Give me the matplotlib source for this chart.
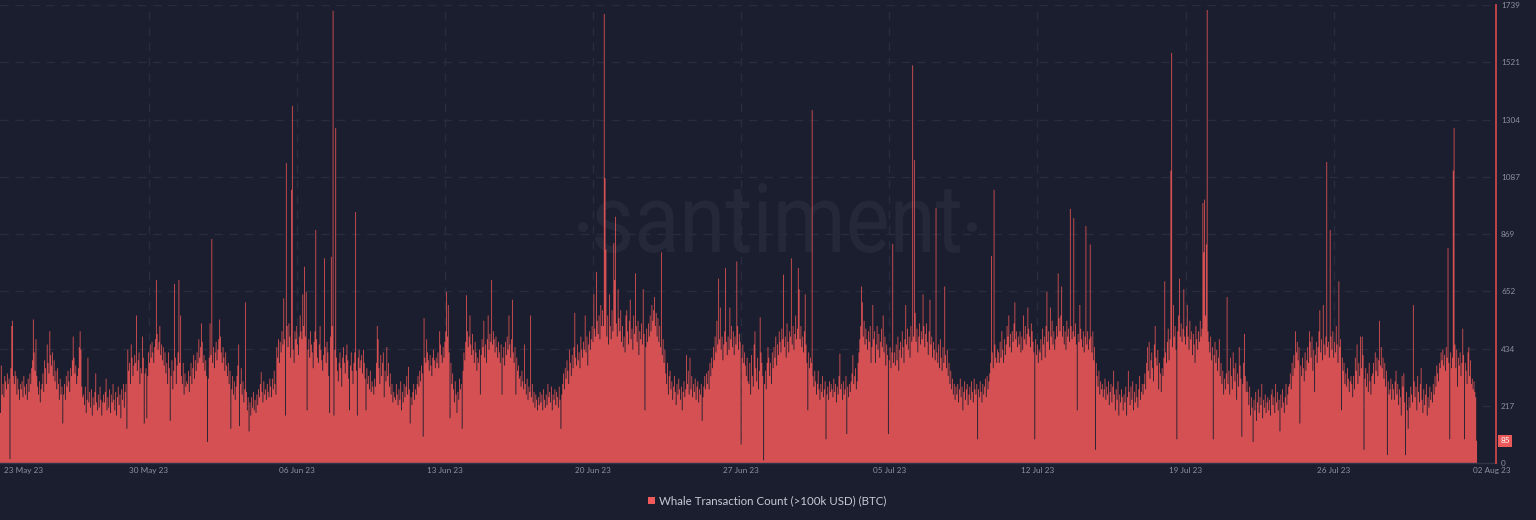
import numpy as np
import matplotlib
matplotlib.use("Agg")
import matplotlib.pyplot as plt
import matplotlib.transforms as mtransforms
from matplotlib.textpath import TextPath
from matplotlib.patches import PathPatch, Circle, Rectangle
from matplotlib.font_manager import FontProperties

# ---------------- data: hourly whale transaction counts, 23 May 2023 00:00 -> 02 Aug 2023 00:00
wk01 = [
    190, 370, 260, 300, 250, 330, 310, 280, 340, 300, 320, 15, 360, 520, 540, 330, 300, 350, 330, 260, 320, 280, 240, 300,
    280, 310, 250, 330, 290, 260, 300, 240, 320, 270, 340, 300, 360, 390, 545, 420, 350, 470, 330, 290, 260, 310, 230, 280,
    300, 340, 270, 390, 360, 300, 450, 380, 340, 500, 410, 370, 420, 330, 390, 310, 350, 280, 360, 300, 240, 320, 260, 290,
    150, 260, 300, 240, 330, 290, 350, 310, 270, 360, 330, 390, 480, 400, 340, 370, 300, 330, 360, 440, 500, 430, 290, 250,
    260, 220, 290, 190, 240, 400, 230, 270, 210, 280, 180, 250, 220, 270, 340, 230, 200, 260, 210, 290, 240, 180, 230, 260,
    230, 270, 320, 200, 250, 210, 280, 190, 260, 230, 300, 240, 200, 270, 180, 250, 290, 220, 260, 170, 280, 240, 300, 210,
    270, 300, 130, 430, 350, 380, 300, 450, 400, 330, 370, 410, 380, 560, 350, 390, 420, 300, 360, 340, 480, 400, 150, 340,
]
wk02 = [
    360, 170, 330, 420, 380, 450, 400, 460, 420, 380, 440, 470, 695, 490, 430, 460, 520, 410, 450, 390, 440, 370, 420, 340,
    380, 300, 420, 360, 160, 330, 390, 280, 350, 680, 400, 300, 370, 420, 695, 380, 560, 330, 300, 380, 260, 340, 290, 310,
    300, 350, 270, 330, 380, 300, 360, 410, 320, 390, 350, 420, 380, 470, 400, 440, 530, 460, 380, 410, 350, 390, 330, 80,
    320, 400, 530, 410, 850, 380, 440, 360, 420, 460, 390, 430, 470, 545, 480, 420, 380, 440, 400, 350, 420, 370, 330, 380,
    300, 350, 130, 280, 330, 260, 310, 240, 290, 330, 370, 450, 140, 300, 360, 260, 310, 230, 280, 610, 270, 200, 250, 120,
    230, 180, 250, 210, 270, 200, 240, 190, 260, 220, 280, 250, 300, 345, 270, 230, 310, 260, 280, 240, 300, 270, 250, 320,
    290, 250, 320, 280, 350, 300, 260, 440, 400, 470, 380, 460, 420, 500, 450, 625, 470, 180, 1139, 520, 440, 530, 480, 400,
]
wk03 = [
    1037, 1356, 430, 380, 500, 470, 520, 450, 410, 480, 560, 500, 470, 640, 520, 745, 480, 650, 200, 430, 470, 400, 500, 450,
    420, 360, 460, 500, 885, 470, 400, 380, 450, 520, 430, 390, 350, 410, 777, 440, 380, 460, 420, 330, 190, 480, 783, 520,
    1717, 180, 430, 1272, 400, 350, 310, 380, 420, 360, 290, 400, 440, 380, 340, 410, 450, 390, 320, 200, 370, 420, 350, 300,
    380, 420, 953, 350, 180, 400, 430, 360, 390, 410, 340, 430, 380, 320, 200, 360, 300, 330, 280, 350, 270, 310, 290, 260,
    320, 290, 380, 520, 470, 360, 300, 410, 330, 380, 420, 250, 350, 310, 440, 330, 380, 290, 340, 260, 300, 230, 270, 250,
    240, 300, 260, 220, 280, 240, 310, 200, 270, 230, 300, 250, 290, 330, 260, 365, 280, 150, 250, 220, 270, 300, 240, 280,
    260, 300, 330, 290, 350, 310, 370, 340, 100, 550, 400, 380, 470, 420, 390, 350, 410, 370, 330, 400, 430, 390, 360, 400,
]
wk04 = [
    380, 420, 360, 500, 450, 410, 380, 440, 400, 460, 500, 650, 480, 600, 420, 170, 380, 300, 340, 280, 230, 310, 260, 190,
    270, 240, 320, 280, 300, 130, 350, 420, 390, 460, 637, 500, 440, 480, 560, 450, 410, 490, 430, 380, 460, 420, 350, 400,
    380, 430, 260, 410, 470, 440, 540, 400, 450, 380, 470, 560, 430, 490, 460, 695, 450, 500, 470, 420, 480, 440, 400, 460,
    420, 380, 450, 260, 400, 440, 370, 460, 410, 480, 430, 560, 450, 400, 470, 620, 420, 380, 440, 260, 400, 350, 370, 320,
    330, 290, 350, 310, 280, 450, 300, 260, 320, 240, 290, 270, 560, 250, 300, 230, 270, 210, 260, 240, 200, 250, 220, 270,
    230, 260, 200, 280, 240, 210, 260, 220, 300, 250, 270, 230, 290, 200, 260, 240, 280, 220, 270, 250, 210, 290, 240, 130,
    260, 300, 340, 280, 360, 320, 390, 350, 300, 430, 380, 330, 410, 360, 440, 570, 400, 370, 450, 390, 420, 360, 480, 430,
]
wk05 = [
    400, 460, 430, 560, 420, 480, 370, 450, 500, 430, 470, 520, 460, 640, 510, 480, 725, 540, 490, 560, 470, 600, 520, 580,
    520, 1705, 1082, 810, 480, 560, 450, 640, 520, 470, 580, 500, 835, 695, 935, 530, 480, 660, 550, 500, 580, 460, 520, 440,
    480, 420, 560, 580, 500, 450, 540, 620, 470, 510, 430, 560, 490, 720, 520, 460, 540, 410, 500, 470, 530, 450, 660, 490,
    200, 440, 510, 460, 530, 480, 560, 500, 600, 540, 580, 630, 520, 570, 480, 550, 460, 520, 440, 800, 410, 470, 380, 430,
    340, 300, 380, 260, 330, 350, 280, 310, 240, 290, 330, 270, 220, 300, 260, 320, 280, 240, 290, 200, 270, 310, 250, 280,
    410, 300, 350, 260, 400, 280, 330, 250, 300, 270, 320, 240, 290, 310, 230, 280, 260, 300, 160, 250, 290, 330, 280, 340,
    300, 350, 280, 380, 330, 400, 360, 440, 390, 480, 420, 540, 450, 700, 470, 590, 430, 480, 390, 450, 500, 740, 460, 410,
]
wk06 = [
    480, 430, 590, 470, 520, 440, 500, 410, 480, 450, 765, 520, 430, 490, 460, 70, 400, 450, 380, 420, 370, 330, 400, 310,
    300, 380, 260, 410, 330, 290, 450, 500, 360, 310, 400, 280, 350, 553, 420, 380, 330, 10, 300, 350, 280, 380, 440, 400,
    330, 380, 300, 420, 360, 440, 400, 480, 370, 450, 410, 500, 460, 420, 510, 470, 715, 440, 480, 400, 530, 460, 420, 500,
    480, 777, 450, 520, 430, 490, 560, 470, 510, 740, 660, 470, 520, 440, 480, 420, 500, 640, 450, 380, 200, 420, 360, 400,
    380, 1340, 330, 290, 350, 310, 260, 300, 350, 280, 240, 300, 270, 330, 250, 280, 310, 90, 260, 290, 240, 310, 270, 300,
    280, 250, 320, 270, 300, 230, 290, 260, 330, 415, 280, 300, 240, 310, 260, 280, 330, 110, 290, 250, 300, 270, 310, 340,
    410, 300, 330, 360, 280, 310, 380, 420, 470, 520, 670, 610, 480, 540, 450, 510, 470, 430, 500, 460, 520, 380, 440, 600,
]
wk07 = [
    470, 500, 380, 450, 520, 430, 490, 400, 460, 510, 440, 560, 420, 480, 370, 450, 410, 110, 390, 440, 360, 420, 832, 380,
    420, 370, 450, 390, 480, 350, 430, 460, 400, 500, 440, 380, 470, 600, 450, 510, 430, 480, 400, 520, 460, 1510, 480, 1150,
    570, 460, 510, 420, 480, 530, 450, 500, 470, 640, 520, 440, 490, 530, 460, 410, 500, 620, 450, 480, 400, 460, 430, 390,
    968, 420, 380, 450, 360, 470, 400, 350, 440, 380, 670, 410, 360, 430, 330, 380, 300, 350, 280, 320, 260, 300, 240, 290,
    260, 300, 230, 280, 320, 250, 290, 200, 270, 310, 240, 280, 300, 220, 260, 290, 240, 310, 270, 230, 320, 280, 260, 300,
    90, 280, 250, 310, 270, 230, 300, 260, 290, 320, 250, 330, 280, 310, 340, 380, 786, 420, 360, 1037, 450, 400, 380, 430,
    420, 380, 460, 400, 500, 430, 380, 470, 410, 450, 520, 480, 560, 440, 490, 420, 500, 460, 530, 610, 470, 500, 440, 480,
]
wk08 = [
    450, 500, 420, 480, 430, 560, 470, 520, 450, 490, 590, 510, 480, 440, 530, 500, 460, 420, 90, 470, 410, 450, 380, 430,
    420, 470, 390, 510, 450, 480, 400, 520, 650, 460, 500, 430, 590, 480, 540, 450, 500, 430, 470, 520, 480, 720, 550, 500,
    560, 670, 480, 520, 450, 500, 430, 540, 480, 510, 460, 965, 520, 470, 500, 930, 480, 530, 450, 200, 490, 460, 600, 510,
    470, 440, 500, 420, 480, 900, 450, 500, 430, 470, 830, 480, 420, 500, 390, 440, 50, 380, 330, 290, 350, 260, 310, 280,
    300, 250, 280, 320, 240, 290, 260, 310, 220, 270, 300, 230, 290, 350, 260, 200, 280, 240, 310, 180, 260, 230, 280, 250,
    200, 260, 230, 290, 180, 250, 350, 270, 220, 290, 240, 310, 200, 270, 230, 300, 250, 210, 280, 330, 240, 270, 300, 260,
    300, 340, 280, 380, 440, 350, 460, 320, 390, 420, 360, 310, 450, 520, 400, 370, 430, 280, 380, 340, 270, 360, 330, 400,
]
wk09 = [
    690, 420, 380, 460, 510, 390, 470, 1110, 1557, 440, 600, 480, 520, 430, 90, 500, 560, 700, 480, 530, 460, 510, 660, 480,
    450, 520, 600, 480, 430, 540, 470, 500, 410, 490, 450, 380, 520, 470, 430, 500, 460, 540, 480, 510, 987, 800, 1000, 560,
    830, 1720, 500, 460, 420, 480, 390, 440, 90, 410, 460, 380, 430, 350, 400, 470, 330, 380, 300, 350, 260, 320, 280, 340,
    630, 300, 350, 260, 400, 330, 280, 420, 360, 310, 380, 240, 340, 290, 440, 370, 320, 100, 300, 380, 490, 330, 270, 310,
    270, 220, 290, 180, 250, 210, 80, 240, 200, 270, 160, 230, 280, 190, 250, 220, 300, 170, 240, 210, 260, 190, 230, 250,
    200, 240, 180, 260, 280, 220, 250, 190, 300, 230, 270, 200, 240, 120, 260, 210, 280, 230, 190, 250, 300, 220, 260, 290,
    300, 340, 280, 380, 330, 410, 360, 500, 420, 460, 390, 440, 150, 370, 330, 400, 360, 310, 420, 350, 390, 440, 380, 500,
]
wk10 = [
    460, 400, 480, 350, 430, 270, 410, 460, 380, 440, 500, 580, 420, 470, 390, 600, 450, 410, 480, 1143, 440, 460, 400, 885,
    480, 430, 500, 400, 460, 420, 520, 450, 380, 690, 440, 470, 200, 400, 350, 380, 300, 340, 290, 360, 320, 270, 310, 330,
    300, 250, 330, 280, 400, 350, 450, 300, 380, 330, 480, 360, 480, 410, 50, 320, 360, 290, 340, 270, 380, 310, 260, 330,
    340, 380, 300, 420, 350, 400, 330, 390, 540, 370, 440, 360, 400, 320, 380, 290, 350, 30, 310, 260, 280, 320, 240, 300,
    280, 240, 310, 350, 260, 300, 220, 280, 250, 180, 330, 290, 340, 230, 30, 270, 200, 130, 250, 210, 290, 260, 230, 600,
    310, 250, 290, 200, 330, 270, 230, 300, 360, 240, 190, 280, 220, 260, 300, 180, 250, 210, 290, 240, 270, 230, 300, 260,
    330, 290, 370, 340, 310, 380, 360, 420, 390, 430, 370, 410, 350, 440, 400, 816, 380, 90, 420, 360, 400, 1110, 1272, 450,
]
wk11 = [
    360, 430, 290, 400, 370, 420, 330, 380, 510, 410, 90, 380, 350, 300, 420, 440, 330, 390, 300, 320, 280, 310, 270, 250,
    85,
]

counts = wk01 + wk02 + wk03 + wk04 + wk05 + wk06 + wk07 + wk08 + wk09 + wk10 + wk11

y_ticks = [0, 217, 434, 652, 869, 1087, 1304, 1521, 1739]
x_tick_labels = ["30 May 23", "06 Jun 23", "13 Jun 23", "20 Jun 23", "27 Jun 23",
                 "05 Jul 23", "12 Jul 23", "19 Jul 23", "26 Jul 23"]
first_label = "23 May 23"
last_label = "02 Aug 23"
legend_label = "Whale Transaction Count (>100k USD) (BTC)"
watermark = "santiment"

# ---------------- style
BG = "#1b1e2e"
BAR = "#d45053"
GRID = "#282c3e"
TICK = "#8b90a4"
FONT = "Lato"
W, H = 1536, 520

fig = plt.figure(figsize=(W / 100, H / 100), dpi=100, facecolor=BG)
ax = fig.add_axes([0, 57 / H, 1496 / W, 458 / H])
ax.patch.set_visible(False)

n = len(counts)
edges = np.arange(n + 1) - 0.5
px_per_hour = 0.8663
ax.set_xlim(-0.5, -0.5 + 1496 / px_per_hour)
ax.set_ylim(0, y_ticks[-1])

# hourly bars drawn as one seamless stepped fill (no seams between adjacent bars)
ax.stairs(counts, edges, baseline=0, fill=True, color=BAR, linewidth=0, zorder=3)

# grid
for yv in y_ticks[1:]:
    ax.axhline(yv, color=GRID, lw=1, dashes=(6, 5), zorder=1)
tick_pos = np.arange(1, len(x_tick_labels) + 1) * 171
for xv in tick_pos:
    ax.axvline(xv, color=GRID, lw=1, dashes=(6, 5), zorder=1)

# axes / ticks
for s in ["top", "left", "right"]:
    ax.spines[s].set_visible(False)
ax.spines["bottom"].set_color("#30354a")
ax.spines["bottom"].set_linewidth(1.0)
ax.spines["bottom"].set_zorder(4)

ax.yaxis.tick_right()
ax.set_yticks(y_ticks)
ax.set_yticklabels([str(v) for v in y_ticks])
ax.tick_params(axis="y", length=0, pad=3.6, labelsize=5.9, labelcolor=TICK)
for lab in ax.get_yticklabels():
    lab.set_fontfamily(FONT)

ax.set_xticks(tick_pos)
ax.set_xticklabels(x_tick_labels)
ax.tick_params(axis="x", length=0, pad=3.0, labelsize=5.9, labelcolor=TICK)
for lab in ax.get_xticklabels():
    lab.set_fontfamily(FONT)

fig.text(4 / W, 1 - 471 / H, first_label, ha="left", va="center",
         fontsize=5.9, color=TICK, family=FONT)
fig.text(1492 / W, 1 - 471 / H, last_label, ha="center", va="center",
         fontsize=5.9, color=TICK, family=FONT)

# right-edge marker line
ax.axvline(ax.get_xlim()[1] - 0.3, color="#c8454c", lw=1.3, zorder=5, clip_on=False)

# latest value badge
ax.text(1.0 + 9 / 1496, counts[-1], str(counts[-1]),
        transform=mtransforms.blended_transform_factory(ax.transAxes, ax.transData),
        ha="center", va="center", fontsize=5.9, color="white", family=FONT,
        bbox=dict(boxstyle="square,pad=0.3", fc="#ea5a5a", ec="none"), zorder=6, clip_on=False)

# watermark
fp = FontProperties(family="Roboto", weight="normal")
tp = TextPath((0, 0), watermark, size=100, prop=fp)
bb = tp.get_extents()
sx = (960 - 595) / bb.width
sy = (253 - 183) / bb.height
trans = (mtransforms.Affine2D().translate(-bb.x0, -bb.y0).scale(sx, sy)
         .translate(595, H - 253))
wm_color = "#242839"
fig.add_artist(PathPatch(tp, transform=trans, fc=wm_color, ec="none", zorder=-1))
for cx in (583, 972):
    fig.add_artist(Circle((cx, H - 227), 5, transform=mtransforms.IdentityTransform(),
                          fc=wm_color, ec="none", zorder=-1))

# legend
fig.add_artist(Rectangle((648, H - 504), 7, 7, transform=mtransforms.IdentityTransform(),
                         fc="#f05a5a", ec="none"))
fig.text(659 / W, 1 - 500.5 / H, legend_label, ha="left", va="center",
         fontsize=8.25, color="#c6cad6", family=FONT)

fig.savefig("out.png", dpi=100, facecolor=BG)
